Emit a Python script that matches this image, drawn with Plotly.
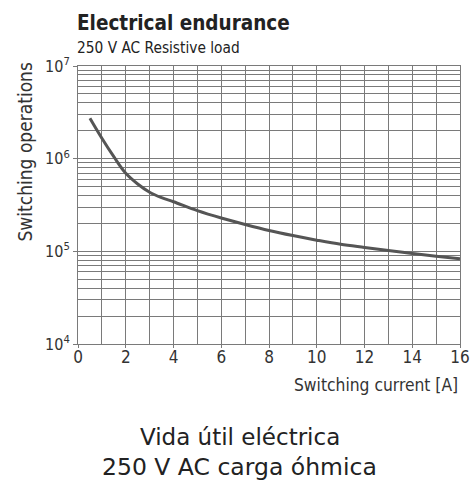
import plotly.graph_objects as go

current_a = [0.5, 1.0, 1.5, 2.0, 2.5, 3.0, 3.5, 4.0, 5.0, 6.0, 7.0, 8.0, 9.0, 10.0, 11.0, 12.0, 13.0, 14.0, 15.0, 16.0]
operations = [2.73e6, 1.66e6, 1.05e6, 6.95e5, 5.33e5, 4.34e5, 3.79e5, 3.43e5, 2.75e5, 2.29e5, 1.95e5, 1.68e5,
              1.48e5, 1.32e5, 1.19e5, 1.1e5, 1.02e5, 9.5e4, 8.87e4, 8.34e4]
x_ticks = [0, 2, 4, 6, 8, 10, 12, 14, 16]
y_ticks = [1e4, 1e5, 1e6, 1e7]
y_tick_text = ["10<sup>4</sup>", "10<sup>5</sup>", "10<sup>6</sup>", "10<sup>7</sup>"]

FONT = "Liberation Sans Narrow, DejaVu Sans Condensed, Arial Narrow, sans-serif"
GRID = "#7a7a7a"

fig = go.Figure()
fig.add_trace(go.Scatter(x=current_a, y=operations, mode="lines",
                         line=dict(color="#555555", width=3, shape="spline", smoothing=1.0),
                         showlegend=False, hoverinfo="skip"))

fig.update_layout(
    width=475, height=483,
    margin=dict(l=78, r=15, t=66, b=139),
    paper_bgcolor="white", plot_bgcolor="white",
    font=dict(family=FONT, color="#222222", size=15),
    xaxis=dict(range=[0, 16], tickvals=x_ticks, ticks="outside", ticklen=3, tickcolor=GRID,
               showgrid=True, gridcolor=GRID, gridwidth=1, dtick=1, automargin=False,
               ticklabelstandoff=-5,
               minor=dict(dtick=1, showgrid=True, gridcolor=GRID, gridwidth=1),
               showline=True, linecolor=GRID, linewidth=1, mirror=True, zeroline=False,
               tickfont=dict(size=17, family=FONT, color="#333333")),
    yaxis=dict(type="log", range=[4, 7], tickvals=y_ticks, ticktext=y_tick_text,
               ticks="outside", ticklen=4, tickcolor=GRID, automargin=False,
               showgrid=True, gridcolor=GRID, gridwidth=1,
               minor=dict(dtick="D1", showgrid=True, gridcolor=GRID, gridwidth=1),
               showline=True, linecolor=GRID, linewidth=1, mirror=True, zeroline=False,
               tickfont=dict(size=16, family=FONT, color="#333333")),
)

fig.add_annotation(text="<b>Electrical endurance</b>", xref="paper", yref="paper",
                   x=-0.008, y=1.0, yshift=29, xanchor="left", yanchor="bottom", showarrow=False,
                   font=dict(size=20.5, family=FONT, color="#222222"))
fig.add_annotation(text="250 V AC Resistive load", xref="paper", yref="paper",
                   x=-0.008, y=1.0, yshift=7, xanchor="left", yanchor="bottom", showarrow=False,
                   font=dict(size=15.3, family=FONT, color="#222222"))
fig.add_annotation(text="Switching operations", xref="paper", yref="paper",
                   x=0, xshift=-54, y=1.0, yshift=5, xanchor="center", yanchor="top", textangle=-90,
                   showarrow=False, font=dict(size=19, family=FONT, color="#333333"))
fig.add_annotation(text="Switching current [A]", xref="paper", yref="paper",
                   x=1.0, y=0, yshift=-29, xanchor="right", yanchor="top", showarrow=False,
                   font=dict(size=17.3, family=FONT, color="#333333"))
fig.add_annotation(text="Vida útil eléctrica", xref="paper", yref="paper",
                   x=0.424, y=0, yshift=-78, xanchor="center", yanchor="top", showarrow=False,
                   font=dict(size=23, family="DejaVu Sans, sans-serif", color="#222222"))
fig.add_annotation(text="250 V AC carga óhmica", xref="paper", yref="paper",
                   x=0.424, y=0, yshift=-107, xanchor="center", yanchor="top", showarrow=False,
                   font=dict(size=23.5, family="DejaVu Sans, sans-serif", color="#222222"))

fig.write_html("out.html", config={"displayModeBar": False},
               post_script="document.body.style.margin='0';")
